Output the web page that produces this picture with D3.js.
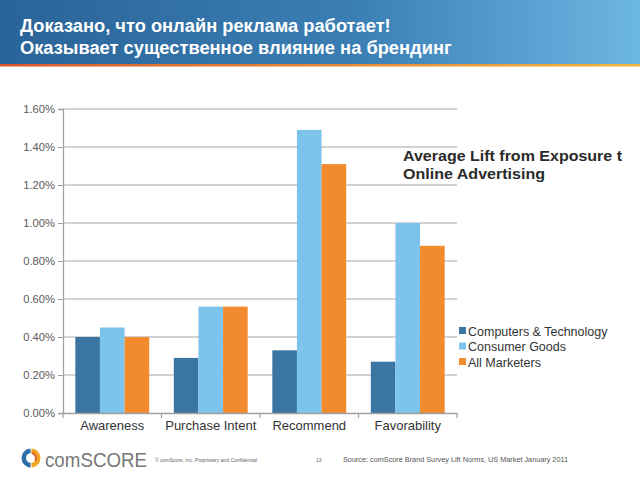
<!DOCTYPE html>
<html><head><meta charset="utf-8">
<script src="https://cdn.jsdelivr.net/npm/d3@7"></script>
<style>body{margin:0;background:#fff}svg{display:block}</style>
</head><body>
<script>
const categories = ["Awareness", "Purchase Intent", "Recommend", "Favorability"];
const seriesNames = ["Computers & Technology", "Consumer Goods", "All Marketers"];
const compTech = [0.40, 0.29, 0.33, 0.27];
const consumerGoods = [0.45, 0.56, 1.49, 1.00];
const allMarketers = [0.40, 0.56, 1.31, 0.88];
const yTicks = [0, 0.2, 0.4, 0.6, 0.8, 1.0, 1.2, 1.4, 1.6];
const titleLines = ["Доказано, что онлайн реклама работает!", "Оказывает существенное влияние на брендинг"];
const chartTitle = ["Average Lift from Exposure t", "Online Advertising"];
const colors = ["#3b75a2", "#7cc4ec", "#f28b2d"];

const W = 640, H = 480;
const svg = d3.select("body").append("svg").attr("width", W).attr("height", H)
  .style("font-family", "'Liberation Sans', Arial, sans-serif");
const defs = svg.append("defs");
const g1 = defs.append("linearGradient").attr("id", "hdr");
g1.append("stop").attr("offset", "0").attr("stop-color", "#2a6397");
g1.append("stop").attr("offset", "0.55").attr("stop-color", "#3a7eb4");
g1.append("stop").attr("offset", "1").attr("stop-color", "#6db7e3");
const g2 = defs.append("linearGradient").attr("id", "hline");
g2.append("stop").attr("offset", "0").attr("stop-color", "#d9572b");
g2.append("stop").attr("offset", "1").attr("stop-color", "#f2b43c");

svg.append("rect").attr("x", 0).attr("y", 0).attr("width", W).attr("height", 64).attr("fill", "url(#hdr)");
svg.append("rect").attr("x", 0).attr("y", 64).attr("width", W).attr("height", 2.5).attr("fill", "url(#hline)");
svg.selectAll(".ttl").data(titleLines).join("text")
  .attr("x", 20).attr("y", (d, i) => 32 + i * 22)
  .attr("fill", "#fff").attr("font-size", 18.3).attr("font-weight", "bold").text(d => d);

const x0 = 63, x1 = 457, yTop = 109, yBot = 413;
const x = d3.scaleBand().domain(categories).range([x0, x1]).paddingInner(0.25).paddingOuter(0.125);
const xs = d3.scaleBand().domain(seriesNames).range([0, x.bandwidth()]);
const y = d3.scaleLinear().domain([0, 1.6]).range([yBot, yTop]);

// gridlines
svg.append("g").selectAll("line").data(yTicks.slice(1)).join("line")
  .attr("x1", x0).attr("x2", x1).attr("y1", d => y(d)).attr("y2", d => y(d))
  .attr("stroke", "#c4c4c4").attr("stroke-width", 1.3);

const series = [compTech, consumerGoods, allMarketers];
const rows = categories.map((c, i) => ({ c, vals: series.map((s, k) => ({ k, v: s[i] })) }));
svg.append("g").selectAll("g").data(rows).join("g")
  .attr("transform", d => `translate(${x(d.c)},0)`)
  .selectAll("rect").data(d => d.vals).join("rect")
  .attr("x", d => xs(seriesNames[d.k])).attr("width", xs.bandwidth())
  .attr("y", d => y(d.v)).attr("height", d => yBot - y(d.v))
  .attr("fill", d => colors[d.k]);

// y axis
const ya = svg.append("g").attr("transform", `translate(${x0},0)`)
  .call(d3.axisLeft(y).tickValues(yTicks).tickSize(5).tickPadding(3).tickFormat(d => d.toFixed(2) + "%"));
ya.select(".domain").attr("stroke", "#a0a0a0").attr("stroke-width", 1.3);
ya.selectAll(".tick line").attr("stroke", "#a0a0a0");
ya.selectAll("text").attr("fill", "#5a5a5a").attr("font-size", 11.2).style("font-family", "'Liberation Sans', Arial, sans-serif");

// x axis
const xa = svg.append("g").attr("transform", `translate(0,${yBot})`)
  .call(d3.axisBottom(x).tickSize(0).tickPadding(8));
xa.select(".domain").attr("stroke", "#a0a0a0").attr("stroke-width", 1.3);
xa.selectAll("text").attr("fill", "#333").attr("font-size", 13).style("font-family", "'Liberation Sans', Arial, sans-serif");
const seps = [x0].concat(categories.map(c => x(c) + x.bandwidth() + x.step() * 0.125));
svg.append("g").selectAll("line").data(seps).join("line")
  .attr("x1", d => d).attr("x2", d => d).attr("y1", yBot).attr("y2", yBot + 5)
  .attr("stroke", "#a0a0a0").attr("stroke-width", 1.2);

// chart title
const ctWidths = [219, 142];
svg.selectAll(".ct").data(chartTitle).join("text")
  .attr("x", 403).attr("y", (d, i) => 161 + i * 18)
  .attr("fill", "#2a2a2a").attr("font-size", 15.5).attr("font-weight", "bold")
  .attr("textLength", (d, i) => ctWidths[i]).attr("lengthAdjust", "spacingAndGlyphs").text(d => d);

// legend
const lg = svg.append("g").selectAll("g").data(seriesNames).join("g")
  .attr("transform", (d, i) => `translate(459,${331 + i * 15.5})`);
lg.append("rect").attr("x", 0).attr("y", -4).attr("width", 7).attr("height", 7).attr("fill", (d, i) => colors[i]);
lg.append("text").attr("x", 9).attr("y", 4.5).attr("font-size", 12.5).attr("fill", "#333").text(d => d);

// footer logo
const lc = svg.append("g").attr("transform", "translate(31,458)");
const arc = d3.arc();
lc.append("path").attr("d", arc({ innerRadius: 5, outerRadius: 9.5, startAngle: Math.PI * 1.02, endAngle: Math.PI * 1.98 })).attr("fill", "#2f6fa8");
lc.append("path").attr("d", arc({ innerRadius: 5, outerRadius: 9.5, startAngle: Math.PI * 0.02, endAngle: Math.PI * 0.98 })).attr("fill", "#f0a623");
lc.append("path").attr("d", arc({ innerRadius: 4, outerRadius: 6, startAngle: Math.PI * 0.05, endAngle: Math.PI * 0.7 })).attr("fill", "#d9602a");
svg.append("text").attr("x", 45).attr("y", 467).attr("font-size", 21).attr("fill", "#777")
  .attr("textLength", 102).attr("lengthAdjust", "spacingAndGlyphs").text("comSCORE");
svg.append("text").attr("x", 155).attr("y", 462).attr("font-size", 5).attr("fill", "#666")
  .text("© comScore, Inc.  Proprietary and Confidential.");
svg.append("text").attr("x", 316).attr("y", 462).attr("font-size", 5).attr("fill", "#666").text("13");
svg.append("text").attr("x", 343).attr("y", 462).attr("font-size", 7).attr("fill", "#555")
  .attr("textLength", 225).attr("lengthAdjust", "spacingAndGlyphs").text("Source: comScore Brand Survey Lift Norms, US Market January 2011");
</script>
</body></html>
